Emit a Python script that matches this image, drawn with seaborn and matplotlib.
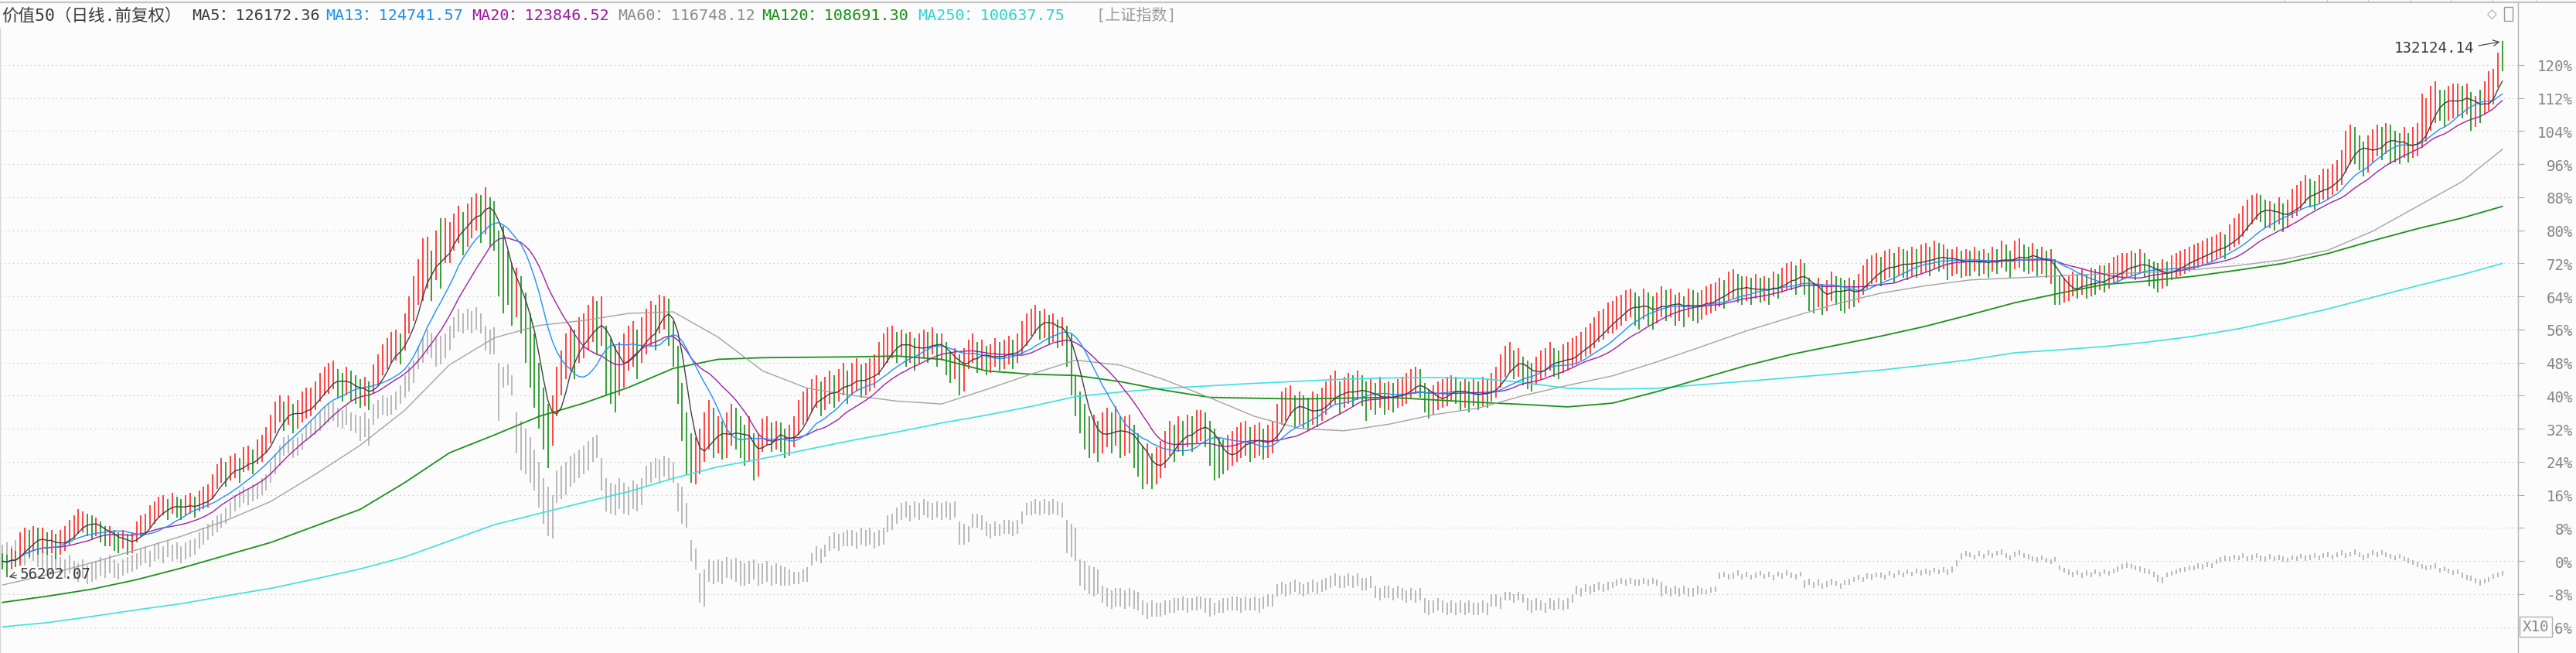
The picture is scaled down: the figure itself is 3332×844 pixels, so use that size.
import numpy as np
import pandas as pd
import matplotlib
matplotlib.use("Agg")
import matplotlib.pyplot as plt
from matplotlib.lines import Line2D
from matplotlib.patches import Rectangle
import seaborn as sns

# ---------------- data (percent change vs. base, as on the right axis) ----------------
close = [
 0.0, -0.5, 1.0, 0.5, 4.0, 5.5, 4.5, 6.0, 5.0, 5.5,
 4.0, 4.5, 3.5, 4.5, 5.5, 7.0, 8.0, 9.5, 10.0, 9.0,
 8.0, 8.5, 7.0, 6.0, 6.5, 5.0, 4.5, 5.5, 4.0, 4.5,
 7.0, 8.5, 9.0, 10.5, 12.0, 13.0, 13.5, 12.5, 14.0, 13.0,
 12.5, 13.5, 14.0, 13.0, 14.5, 15.0, 15.5, 18.0, 20.5, 22.0,
 21.0, 22.5, 23.0, 22.0, 24.5, 25.0, 24.0, 26.5, 27.0, 29.0,
 32.0, 35.0, 37.0, 35.0, 36.5, 34.5, 35.5, 37.0, 38.0, 38.5,
 40.0, 42.0, 43.5, 44.0, 45.0, 43.0, 42.0, 43.5, 42.0, 41.5,
 40.5, 41.0, 40.0, 44.0, 46.0, 48.5, 50.0, 51.5, 52.0, 51.0,
 56.0, 60.0, 64.0, 68.0, 71.0, 73.0, 70.0, 74.0, 73.0, 77.0,
 78.0, 81.0, 83.0, 80.0, 82.5, 85.0, 86.0, 84.5, 87.0, 85.0,
 80.0, 75.0, 70.0, 68.0, 64.0, 66.0, 62.0, 56.0, 50.0, 44.0,
 38.0, 32.0, 30.0, 36.0, 42.0, 46.0, 50.0, 52.0, 50.0, 54.0,
 55.0, 57.0, 59.0, 56.0, 58.0, 50.0, 48.0, 45.0, 47.0, 49.0,
 52.0, 53.0, 50.0, 54.0, 56.0, 58.0, 57.0, 61.0, 63.0, 60.0,
 52.0, 42.0, 34.0, 28.0, 24.0, 25.0, 26.0, 30.0, 34.0, 30.0,
 31.0, 29.0, 30.0, 33.0, 32.0, 30.0, 28.0, 29.0, 24.0, 25.0,
 31.0, 31.5, 30.0, 30.5, 30.0, 28.5, 29.0, 31.0, 35.0, 37.0,
 38.0, 40.0, 41.0, 39.0, 40.5, 42.0, 41.0, 42.5, 44.0, 42.0,
 44.0, 45.0, 43.5, 44.0, 45.0, 46.0, 49.0, 51.0, 52.0, 53.0,
 52.0, 53.5, 51.0, 52.0, 50.0, 51.5, 53.0, 52.0, 54.0, 51.0,
 52.0, 49.0, 47.0, 48.0, 46.5, 48.0, 50.0, 51.5, 49.0, 50.0,
 48.5, 49.0, 50.5, 49.5, 50.0, 51.0, 50.0, 51.5, 54.0, 56.0,
 58.0, 59.0, 57.0, 58.5, 56.0, 57.0, 55.0, 56.0, 52.0, 46.0,
 40.0, 36.0, 33.0, 30.0, 31.0, 29.0, 31.0, 32.5, 31.0, 33.0,
 30.0, 30.5, 31.0, 28.0, 26.0, 23.0, 24.0, 21.0, 23.0, 24.5,
 27.0, 30.0, 28.5, 31.0, 30.0, 32.0, 31.0, 33.0, 34.0, 32.0,
 29.0, 26.0, 25.0, 24.5, 26.0, 27.0, 28.0, 29.5, 30.0, 28.0,
 29.0, 29.5, 28.0, 29.0, 30.0, 34.0, 37.0, 38.0, 39.0, 36.0,
 37.0, 36.0, 35.5, 37.0, 36.5, 38.0, 39.5, 41.0, 42.0, 39.5,
 40.5, 41.5, 41.0, 42.5, 41.0, 39.5, 40.0, 39.0, 40.5, 39.0,
 40.0, 39.5, 40.5, 41.0, 41.5, 43.0, 44.0, 43.0, 39.0, 38.0,
 39.0, 40.0, 40.5, 41.0, 42.0, 41.5, 40.0, 40.5, 40.0, 41.0,
 40.0, 41.0, 40.5, 42.0, 43.0, 46.0, 48.0, 49.0, 47.5, 48.0,
 46.0, 45.0, 44.5, 46.0, 47.5, 48.0, 49.5, 48.0, 47.5, 49.0,
 49.5, 50.5, 51.0, 52.0, 53.0, 53.5, 55.0, 56.5, 57.0, 58.5,
 59.0, 60.0, 61.0, 62.0, 63.0, 61.0, 60.0, 62.5, 61.0, 60.0,
 61.5, 63.0, 62.0, 63.0, 61.0, 62.0, 60.5, 63.0, 62.0, 61.5,
 62.0, 63.0, 63.5, 64.0, 65.0, 64.5, 66.5, 67.0, 66.0, 65.5,
 66.0, 65.0, 66.5, 65.5, 66.0, 65.0, 67.0, 66.5, 68.0, 68.5,
 69.0, 68.0, 70.0, 68.5, 65.0, 64.0, 65.5, 63.5, 64.5, 67.0,
 66.0, 65.0, 64.5, 65.5, 65.0, 66.0, 68.0, 69.5, 70.5, 71.0,
 70.0, 71.5, 72.0, 71.0, 72.5, 72.0, 71.5, 72.5, 72.0, 73.0,
 73.5, 72.5, 74.0, 73.5, 74.0, 72.0, 72.5, 73.0, 72.0, 72.5,
 72.0, 73.0, 72.0, 72.5, 71.5, 73.0, 72.5, 74.0, 73.0, 71.5,
 74.0, 75.0, 73.5, 73.0, 74.0, 72.5, 73.0, 72.0, 72.0, 68.0,
 64.5, 65.0, 66.0, 67.0, 66.5, 67.5, 66.0, 68.0, 67.5, 68.5,
 68.0, 69.0, 70.0, 70.5, 71.0, 71.5, 72.0, 71.0, 72.5, 71.5,
 70.0, 69.5, 69.0, 70.0, 69.5, 71.0, 71.5, 72.0, 72.5, 73.0,
 73.5, 74.0, 74.5, 75.0, 75.5, 76.0, 76.5, 76.0, 78.5, 79.5,
 80.0, 82.0, 83.5, 85.0, 86.0, 85.5, 84.0, 84.0, 83.5, 85.0,
 83.0, 84.0, 86.5, 87.0, 88.5, 90.0, 89.0, 88.5, 90.0, 91.0,
 91.5, 92.5, 93.0, 95.0, 100.0, 102.0, 101.0, 99.0, 97.5, 99.0,
 100.5, 102.0, 101.0, 103.0, 102.0, 100.5, 100.0, 101.5, 99.5, 101.5,
 102.0, 104.0, 108.0, 112.0, 113.0, 111.0, 109.5, 111.0, 112.0, 113.0,
 111.5, 112.5, 109.0, 110.0, 109.5, 112.0, 112.5, 115.0, 121.5, 119.5,
]

high = [
 2.0, 1.5, 3.0, 2.5, 7.0, 8.0, 7.5, 8.5, 8.0, 8.0,
 7.0, 7.5, 6.5, 7.5, 8.5, 10.0, 11.0, 12.5, 12.0, 11.5,
 11.0, 10.5, 9.5, 8.5, 8.5, 7.5, 7.0, 7.5, 6.5, 7.0,
 9.5, 11.0, 11.5, 13.5, 14.5, 15.5, 16.0, 15.0, 16.5, 15.5,
 15.0, 16.0, 16.5, 15.5, 17.0, 18.0, 18.5, 21.0, 23.5, 25.0,
 24.0, 25.5, 26.0, 25.0, 27.5, 28.0, 27.0, 29.5, 30.5, 32.5,
 35.5, 38.5, 40.0, 38.5, 40.0, 38.0, 39.0, 41.0, 42.0, 42.0,
 43.5, 45.5, 47.0, 48.0, 48.5, 46.5, 45.5, 47.0, 46.0, 45.0,
 44.0, 44.5, 43.5, 47.5, 50.0, 52.5, 54.0, 55.5, 56.0, 55.0,
 60.0, 64.0, 69.0, 73.0, 78.0, 78.5, 75.0, 80.0, 83.0, 83.0,
 82.0, 84.0, 86.0, 84.5, 86.5, 88.0, 89.0, 88.5, 90.5, 88.0,
 87.0, 80.0, 81.0, 75.0, 72.0, 71.0, 69.0, 65.0, 60.0, 55.0,
 48.0, 42.0, 38.0, 40.0, 47.0, 51.0, 55.0, 57.0, 56.0, 59.0,
 60.0, 62.0, 64.0, 63.0, 64.0, 57.0, 54.0, 52.0, 53.0, 55.0,
 57.0, 58.0, 56.0, 59.0, 61.0, 63.0, 62.0, 64.5, 64.0, 63.5,
 58.0, 52.0, 43.0, 36.0, 31.0, 30.0, 32.0, 36.0, 39.0, 37.0,
 35.0, 34.0, 36.0, 38.0, 37.0, 35.0, 33.0, 35.0, 31.0, 31.0,
 34.5, 35.0, 33.5, 34.0, 33.5, 32.0, 33.0, 35.0, 39.0, 41.0,
 42.0, 44.0, 45.0, 43.5, 44.5, 46.0, 45.0, 46.5, 48.0, 46.0,
 48.0, 49.0, 47.5, 48.0, 49.0, 50.0, 53.0, 55.0, 56.5, 57.0,
 55.5, 56.0, 55.0, 55.5, 54.0, 55.0, 56.0, 55.5, 56.5, 55.0,
 55.0, 53.0, 50.5, 51.5, 50.0, 51.5, 53.5, 55.0, 53.0, 53.5,
 52.0, 52.5, 54.0, 53.0, 53.5, 54.5, 53.5, 55.0, 58.0, 60.0,
 61.0, 62.0, 60.5, 61.0, 59.5, 60.0, 58.5, 59.0, 57.0, 55.0,
 45.0, 41.0, 38.0, 35.0, 35.5, 34.0, 36.0, 37.0, 36.0, 37.5,
 35.0, 35.0, 35.5, 33.0, 31.0, 28.0, 28.5, 26.0, 27.5, 29.0,
 31.5, 34.0, 33.0, 35.0, 34.0, 35.5, 35.0, 36.5, 36.5, 36.0,
 34.0, 32.0, 30.0, 29.5, 30.5, 31.5, 32.5, 33.5, 34.0, 32.5,
 33.0, 33.5, 32.0, 33.0, 34.0, 38.0, 41.0, 42.0, 42.5, 40.0,
 41.0, 40.0, 39.5, 41.0, 40.5, 42.0, 43.5, 45.0, 46.0, 43.5,
 44.5, 45.5, 45.0, 46.0, 45.0, 43.5, 44.0, 43.0, 44.5, 43.0,
 43.5, 43.0, 44.0, 44.5, 45.5, 46.5, 47.0, 46.5, 43.0, 41.5,
 42.5, 43.5, 44.0, 44.5, 45.0, 44.5, 43.5, 44.0, 43.5, 44.0,
 43.5, 44.5, 44.0, 45.5, 47.0, 50.0, 52.0, 53.0, 51.0, 51.5,
 49.5, 48.5, 48.0, 49.5, 51.0, 51.5, 53.0, 51.5, 51.0, 52.5,
 53.0, 54.0, 54.5, 55.5, 56.5, 57.5, 59.0, 60.5, 61.0, 62.5,
 63.0, 64.0, 64.5, 65.5, 66.0, 65.0, 64.0, 66.0, 65.0, 64.0,
 65.0, 66.5, 65.5, 66.0, 64.5, 65.0, 64.0, 66.0, 65.5, 65.0,
 65.5, 66.5, 67.0, 67.5, 68.5, 68.0, 70.0, 70.5, 69.5, 69.0,
 69.0, 68.5, 69.5, 68.5, 69.0, 68.5, 70.0, 69.5, 71.0, 72.0,
 72.5, 71.5, 73.0, 72.0, 68.5, 67.5, 68.5, 67.0, 68.0, 70.0,
 69.0, 68.5, 68.0, 68.5, 68.0, 69.5, 71.5, 73.0, 74.0, 74.5,
 73.5, 75.0, 75.5, 74.5, 76.0, 75.5, 75.0, 76.0, 75.5, 76.5,
 77.0, 76.0, 77.5, 77.0, 76.5, 75.5, 75.5, 76.0, 75.0, 75.5,
 75.0, 76.0, 75.0, 75.5, 74.5, 76.0, 75.5, 77.5, 76.5, 75.0,
 77.5, 78.0, 76.5, 76.0, 77.0, 75.5, 76.0, 75.0, 75.5, 73.0,
 69.0, 68.5, 69.0, 70.0, 69.5, 70.5, 69.5, 71.0, 70.5, 71.5,
 71.5, 72.0, 73.5, 74.0, 74.5, 74.5, 75.0, 74.5, 75.5, 74.5,
 73.0, 72.5, 72.0, 73.0, 72.5, 74.0, 74.5, 75.0, 75.5, 76.0,
 76.5, 77.0, 77.5, 78.0, 78.5, 79.0, 79.5, 79.0, 81.5, 83.0,
 84.0, 86.0, 87.5, 88.5, 89.0, 88.5, 87.5, 87.0, 86.5, 88.0,
 86.5, 87.5, 90.0, 91.0, 92.0, 93.5, 92.5, 92.0, 93.5, 95.0,
 95.0, 96.0, 97.0, 99.5, 104.0, 105.5, 105.0, 103.0, 101.5, 103.0,
 104.5, 105.5, 105.0, 106.0, 105.5, 104.0, 103.5, 105.0, 103.5, 105.0,
 106.0, 113.0, 112.0, 115.0, 116.0, 114.0, 114.0, 115.0, 115.5, 115.5,
 115.0, 115.5, 113.5, 112.5, 114.0, 116.0, 118.5, 119.0, 123.0, 125.85,
]

low = [
 -2.0, -3.93, -2.0, -1.5, -1.0, 2.0, 1.0, 2.5, 1.5, 2.0,
 1.5, 2.0, 0.5, 1.5, 2.5, 4.0, 5.0, 6.5, 7.0, 6.0,
 5.0, 6.0, 4.5, 3.5, 3.5, 2.5, 2.0, 3.0, 1.5, 2.0,
 4.5, 6.0, 6.5, 8.0, 9.0, 10.5, 11.0, 10.0, 11.5, 10.5,
 10.0, 11.0, 11.5, 10.5, 12.0, 12.5, 13.0, 15.0, 17.5, 19.0,
 18.0, 19.5, 20.0, 19.0, 21.5, 22.0, 21.0, 23.5, 24.0, 26.0,
 28.5, 31.0, 33.5, 31.5, 33.0, 31.0, 32.0, 33.5, 34.5, 35.0,
 36.5, 38.5, 40.0, 40.5, 41.5, 39.5, 38.5, 40.0, 38.5, 38.0,
 37.0, 37.5, 36.5, 40.5, 42.5, 45.0, 46.5, 48.0, 48.5, 47.5,
 51.0, 55.0, 58.0, 62.0, 63.0, 66.0, 63.0, 68.0, 66.0, 72.0,
 72.0, 75.0, 77.0, 74.0, 76.0, 78.0, 80.0, 77.0, 79.0, 76.0,
 75.0, 64.0, 60.0, 62.0, 57.0, 59.0, 55.0, 48.0, 42.0, 37.0,
 32.0, 27.0, 22.5, 28.0, 35.0, 40.0, 44.0, 46.0, 44.0, 48.0,
 49.0, 51.0, 53.0, 50.0, 52.0, 40.0, 38.0, 36.0, 40.0, 42.0,
 46.0, 47.0, 44.0, 48.0, 50.0, 52.0, 51.0, 55.0, 56.0, 52.0,
 47.0, 38.0, 29.0, 21.0, 19.0, 18.5, 21.0, 24.0, 27.0, 25.0,
 26.0, 24.5, 25.0, 28.0, 27.0, 25.0, 23.0, 24.0, 19.5, 20.5,
 26.5, 28.0, 26.5, 27.0, 26.5, 25.0, 25.5, 27.5, 30.5, 33.0,
 34.0, 36.0, 37.0, 35.0, 36.5, 38.0, 37.0, 38.5, 40.0, 38.0,
 40.0, 41.0, 39.5, 40.0, 41.0, 42.0, 45.0, 47.0, 48.0, 49.0,
 48.0, 49.5, 47.0, 48.0, 46.0, 47.5, 49.0, 48.0, 50.0, 47.0,
 48.5, 45.0, 43.0, 44.0, 40.0, 41.0, 46.5, 48.0, 45.5, 46.5,
 45.0, 45.5, 47.0, 46.0, 46.5, 47.5, 46.5, 48.0, 50.0, 52.0,
 54.5, 55.0, 53.5, 54.0, 52.5, 53.0, 51.5, 52.0, 47.0, 40.0,
 35.0, 31.0, 27.0, 25.0, 26.0, 24.0, 26.0, 27.5, 26.0, 28.0,
 25.0, 25.5, 26.0, 22.5, 20.5, 17.5, 18.5, 17.5, 18.5, 20.0,
 22.5, 25.5, 24.0, 26.5, 25.5, 27.5, 26.5, 28.5, 29.0, 27.5,
 23.0, 19.5, 20.0, 21.0, 22.0, 23.0, 24.0, 25.0, 25.5, 24.0,
 25.0, 25.5, 24.5, 25.0, 26.0, 29.0, 33.0, 34.0, 35.0, 32.0,
 33.0, 32.0, 31.5, 33.0, 32.5, 34.0, 35.5, 37.0, 38.0, 35.5,
 37.0, 38.0, 37.5, 39.0, 37.5, 34.0, 36.5, 35.5, 37.0, 35.5,
 36.5, 36.0, 37.0, 37.5, 38.0, 39.5, 40.5, 39.5, 36.0, 34.5,
 35.5, 36.5, 37.0, 37.5, 38.5, 38.0, 36.5, 37.0, 36.0, 37.5,
 36.5, 37.5, 37.0, 38.5, 39.5, 42.0, 44.5, 45.5, 44.0, 44.5,
 42.5, 41.5, 41.0, 42.5, 44.0, 44.5, 46.0, 44.5, 44.0, 45.5,
 46.0, 47.0, 47.5, 48.5, 49.5, 50.0, 51.5, 53.0, 53.5, 55.0,
 55.0, 56.0, 57.0, 58.0, 59.0, 57.0, 56.0, 58.5, 57.0, 56.0,
 57.5, 59.0, 58.0, 59.0, 57.0, 58.0, 56.5, 59.0, 58.0, 57.5,
 58.5, 59.5, 60.0, 60.5, 61.5, 61.0, 63.0, 63.5, 62.5, 62.0,
 63.0, 62.0, 63.5, 62.5, 63.0, 62.0, 64.0, 63.5, 65.0, 65.5,
 65.5, 64.5, 66.5, 64.5, 60.5, 60.0, 61.5, 59.5, 60.5, 63.0,
 62.0, 60.5, 60.0, 61.0, 61.5, 62.5, 64.5, 66.0, 67.0, 67.5,
 66.5, 68.0, 68.5, 67.5, 69.0, 68.5, 68.0, 69.0, 68.5, 69.5,
 70.0, 69.0, 70.5, 70.0, 70.5, 68.0, 69.0, 69.5, 68.5, 69.0,
 69.0, 70.0, 69.0, 69.5, 68.5, 70.0, 69.5, 71.0, 70.0, 68.5,
 70.5, 71.0, 70.0, 69.5, 70.0, 69.0, 69.5, 68.5, 67.0, 62.0,
 62.0, 62.5, 63.0, 64.0, 63.5, 64.5, 63.5, 64.0, 64.5, 65.5,
 65.0, 66.0, 67.0, 67.5, 68.0, 68.5, 69.0, 68.0, 69.5, 68.5,
 66.5, 66.0, 65.0, 66.0, 66.5, 68.0, 68.5, 69.0, 69.5, 70.0,
 70.5, 71.0, 71.5, 72.0, 72.5, 73.0, 73.5, 73.0, 75.0, 76.0,
 76.5, 78.5, 80.0, 81.5, 82.5, 82.0, 80.5, 80.5, 80.0, 81.5,
 79.5, 80.5, 83.0, 83.5, 85.0, 86.5, 85.5, 85.0, 86.5, 87.5,
 87.5, 88.5, 89.5, 91.0, 94.0, 96.0, 96.0, 94.5, 93.0, 94.0,
 96.5, 98.0, 97.0, 98.5, 96.0, 96.5, 96.0, 97.5, 96.5, 97.5,
 98.0, 100.0, 101.5, 104.0, 106.0, 106.5, 105.0, 106.5, 107.0, 107.5,
 107.0, 108.0, 104.0, 105.0, 106.0, 108.0, 109.0, 110.5, 114.5, 118.5,
]

# overlaid comparison index (上证指数), same percent axis
idx_high = [
 4, 4.5, 3.5, 5, 4, 3.5, 4.5, 4, 3, 2.5,
 2, 1.5, 2.5, 1, 0.5, 1.5, 0, -0.5, 0.5, -1,
 -0.5, 0, 1, 0.5, 1.5, 0.5, -0.5, 0.5, 1, 1.5,
 2, 3, 3.5, 2.5, 4, 4.5, 3.5, 5, 4, 4.5,
 3.5, 4.5, 5, 5.5, 7, 8, 9, 10, 11, 11.5,
 13, 14.5, 16, 17, 18, 17.5, 18.5, 19, 20, 21,
 24, 26, 28, 30, 30.5, 29.5, 30, 31, 33, 34,
 35, 36, 37.5, 38, 38.5, 37, 36.5, 37.5, 36, 35.5,
 35, 36, 34.5, 38, 39, 40, 39.5, 40, 41, 42.5,
 45, 47, 48.5, 52, 54, 56, 55, 54, 54.5, 55,
 57, 59, 61, 60, 61, 60.5, 61.5, 60, 57, 56,
 56.5, 48, 47, 47.5, 45, 36, 34, 32, 30, 27,
 24, 20, 18, 16, 22, 23, 24, 25.5, 26, 27,
 28, 29, 30, 30.5, 25, 20, 19, 18.5, 20, 19,
 18, 19.5, 18.5, 20, 23, 24, 25, 24.5, 25.5, 25,
 24, 19, 18, 14, 5, 3, -3, -2, 0.5, 0,
 0.5, 0, 1, 0.5, 0.8, 0, -0.5, 0, 0.5, -0.5,
 -0.5, 0, -1, -0.5, -1, -1.5, -2, -2.5, -2.5, -2,
 -1.5, 2, 3.5, 3, 4, 6, 7, 6.5, 7, 7.5,
 7.5, 7, 8, 7.5, 8, 7, 7.5, 8, 11, 11.5,
 13, 14, 14.5, 13.5, 14.5, 14, 15, 14.5, 14, 14.5,
 14, 14.5, 14, 14.5, 9.5, 9, 8.5, 11.5, 11.5, 11,
 9.5, 9, 9.5, 9, 10, 10, 9.5, 10, 12, 14,
 14.5, 15, 14.5, 15, 14.5, 15, 14.5, 14, 10, 9,
 8, 0.5, 0, -1, -1.5, -2, -6, -6.5, -7, -6.5,
 -6.5, -7, -6.5, -7, -7.5, -9.5, -10, -9.5, -10, -10,
 -9.5, -9.5, -9, -9, -8.5, -9, -9, -8.5, -8.5, -9,
 -9, -10, -9.5, -9, -9, -8.5, -8.5, -9, -8.5, -9,
 -8.5, -9, -8.5, -8, -8, -5.5, -5, -5.5, -5, -4.5,
 -5, -5.5, -5, -4.5, -5, -4.5, -4, -3.5, -3, -3.5,
 -3.5, -3, -3.5, -3, -4, -4, -3.5, -6, -6.5, -6,
 -6, -6.5, -6, -6.5, -7, -6.5, -7, -6.5, -9, -9.5,
 -9.5, -9, -9.5, -10, -9.5, -10, -9.5, -10, -9.5, -10,
 -10, -9.5, -10, -8, -8, -8.5, -7.5, -7.5, -8, -7.5,
 -8, -9, -9.5, -9, -9.5, -10, -9, -9.5, -9, -9.5,
 -9, -8, -6, -6.5, -5.5, -6, -5.5, -5, -5.5, -5,
 -5, -4.5, -4, -4.5, -4, -4.5, -4.5, -4, -4.5, -4,
 -4.5, -5, -6, -6.5, -6, -6.5, -6, -6.5, -6.5, -6,
 -6.6, -6.9, -6.3, -6.1, -2.8, -2.5, -3.2, -2.8, -2.3, -3.1,
 -2.6, -3.3, -2.7, -2.4, -3.1, -2.6, -3.4, -2.5, -3.0, -2.3,
 -2.8, -3.2, -2.5, -4.6, -4.3, -5.1, -4.5, -5.3, -4.9, -4.3,
 -4.8, -5.3, -4.6, -4.3, -3.8, -3.3, -3.9, -3.0, -3.2, -2.7,
 -2.8, -3.3, -2.4, -2.9, -2.2, -2.7, -2.0, -2.5, -1.8, -2.3,
 -1.9, -2.3, -1.6, -2.0, -1.5, -2.1, -1.3, 0.3, 1.9, 2.4,
 2.1, 1.6, 2.4, 1.8, 2.6, 2.0, 2.5, 2.9, 1.9, 1.4,
 2.2, 2.7, 2.0, 1.7, 1.2, 0.9, 1.4, 0.8, 0.4, 1.0,
 -1.0, -1.6, -2.1, -2.5, -2.2, -2.8, -2.3, -2.7, -2.0, -2.5,
 -2.0, -2.4, -1.8, -1.3, -0.8, -0.4, -0.7, -1.0, -1.3, -1.7,
 -2.0, -2.6, -3.4, -3.8, -2.7, -2.4, -2.0, -1.6, -1.4, -1.0,
 -1.1, -0.6, -0.8, -0.2, -0.5, 0.4, 0.9, 1.3, 1.1, 1.6,
 1.4, 1.9, 1.2, 1.5, 2.0, 1.3, 1.1, 1.7, 1.2, 1.5,
 1.1, 0.8, 1.4, 1.2, 1.8, 1.3, 1.5, 2.0, 1.4, 1.9,
 2.2, 1.6, 2.1, 2.6, 2.0, 2.3, 2.8, 2.1, 1.5, 1.9,
 2.6, 2.2, 2.7, 2.1, 1.8, 1.4, 1.8, 1.2, 0.7, 0.3,
 -0.2, -0.7, -1.1, -0.9, -0.6, -1.6, -1.2, -1.8, -2.2, -2.0,
 -2.8, -3.4, -3.6, -4.0, -4.4, -4.2, -3.8, -3.1, -2.7, -2.4,
]

idx_low = [
 -1, 0, -0.5, 1, 0, -1, 0.5, 0, -1.5, -2,
 -2.5, -3, -2, -3.5, -4, -3, -4.5, -5, -4, -5.5,
 -5, -4.5, -3.5, -4, -3, -4, -4.5, -3.5, -3, -2.5,
 -2, -1, -0.5, -1.5, 0, 0.5, -0.5, 1, 0, 0.5,
 -0.5, 0.5, 1, 1.5, 3, 4, 5, 6, 7, 8,
 9, 10.5, 12, 13, 14, 13.5, 14.5, 15, 16, 17,
 19, 21, 23, 25.5, 26, 25, 25.5, 27, 29, 30,
 30.5, 31.5, 33, 33.5, 34, 32.5, 32, 33, 31.5, 31,
 29, 30, 28, 33, 34.5, 35.5, 35, 35.5, 36.5, 38,
 39.5, 41, 43, 46.5, 48, 50, 49, 47, 47.5, 49,
 51, 54, 55.5, 55, 56, 55, 56, 55, 51, 50,
 50, 34, 42, 42.5, 40, 26, 22, 21, 19, 17,
 13, 9, 6, 5.5, 14, 15, 16, 18, 19, 20,
 21, 22, 24, 25, 17, 12, 11.5, 11, 12.5, 11.5,
 11, 12.5, 12, 13.5, 18, 19, 20, 19, 20.5, 19.5,
 19, 12, 9, 8, 0, -2, -10, -11, -5, -5.5,
 -5, -5.5, -4, -4.5, -5, -6, -6, -5.5, -4.5, -6,
 -5.5, -5, -6, -5.5, -6, -6, -6, -5.5, -5.5, -5,
 -5, -1, 0, -0.5, 1, 2.5, 3, 2.5, 3.5, 3.5,
 3.5, 3, 4, 3.5, 4, 3, 3.5, 4, 7, 7.5,
 9, 10, 10.5, 9.5, 10.5, 10, 11, 10.5, 10, 10.5,
 10, 10.5, 10, 10.5, 4, 4, 4.5, 8, 8, 7.5,
 6, 5.5, 6, 6, 6.5, 6.5, 6, 6.5, 9, 11,
 11, 11.5, 11, 11.5, 11, 11.5, 11, 10.5, 2, 1,
 0, -6, -7, -8, -8.5, -8, -10, -11, -11.5, -11,
 -11, -11.5, -11, -11.5, -12, -13, -14, -13.5, -13.5, -13.5,
 -13, -12.5, -12.5, -12, -12, -12.5, -12, -12, -11.5, -12.5,
 -13.5, -13, -12.5, -12.5, -12, -12, -12, -12.5, -12, -12,
 -12, -12.5, -11.5, -11, -11, -8.5, -8, -8.5, -8, -7.5,
 -8, -8.5, -8, -7.5, -8, -7.5, -7, -6.5, -6, -6.5,
 -6.5, -6, -6.5, -6, -7, -7, -6.5, -9, -9.5, -9,
 -9, -9.5, -9, -9.5, -10, -9.5, -10, -9.5, -12.5, -13,
 -12.5, -12, -12.5, -13, -12.5, -13, -12.5, -13, -12.5, -13,
 -13, -12.5, -13, -11, -11, -11.5, -9.5, -9.5, -10, -9.5,
 -10, -12, -12.5, -12, -12, -12.5, -11.5, -12, -11.5, -12,
 -11.5, -10, -8, -8.5, -7.5, -8, -7.5, -7, -7.5, -7,
 -6.5, -6, -5.5, -6, -5.5, -6, -6, -5.5, -6, -5.5,
 -6, -8.5, -8, -8.5, -8, -8.5, -8, -8.5, -8.5, -8,
 -8.0, -8.1, -7.6, -7.4, -4.2, -3.8, -4.4, -4.2, -3.6, -4.5,
 -3.8, -4.5, -4.0, -3.6, -4.3, -3.9, -4.6, -3.7, -4.2, -3.6,
 -4.0, -4.4, -3.7, -6.6, -5.7, -6.5, -5.9, -6.7, -6.3, -5.7,
 -6.0, -6.7, -5.8, -5.7, -5.0, -4.7, -5.1, -4.2, -4.6, -3.9,
 -4.0, -4.5, -3.6, -4.1, -3.4, -3.9, -3.2, -3.7, -3.0, -3.5,
 -3.1, -3.5, -2.8, -3.2, -2.7, -3.3, -2.7, -1.3, 0.5, 1.2,
 0.9, 0.4, 1.2, 0.6, 1.4, 0.8, 1.3, 1.5, 0.7, 0.2,
 1.0, 1.3, 0.8, 0.5, 0.0, -0.3, 0.2, -0.4, -0.8, -0.2,
 -2.2, -2.8, -3.3, -3.9, -3.4, -4.0, -3.5, -3.9, -3.2, -3.7,
 -3.2, -3.6, -3.0, -2.5, -2.0, -1.6, -1.9, -2.2, -2.5, -2.9,
 -3.2, -3.8, -5.0, -5.4, -3.9, -3.6, -3.2, -2.8, -2.6, -2.2,
 -2.3, -1.8, -2.0, -1.4, -1.7, -0.8, -0.3, 0.1, -0.1, 0.4,
 0.2, 0.7, 0.0, 0.3, 0.8, 0.1, -0.1, 0.5, 0.0, 0.3,
 -0.1, -0.4, 0.2, 0.0, 0.6, 0.1, 0.3, 0.8, 0.2, 0.7,
 1.0, 0.4, 0.9, 1.4, 0.8, 1.1, 1.6, 0.9, 0.3, 0.7,
 1.4, 1.0, 1.5, 0.9, 0.6, 0.2, 0.6, 0.0, -0.5, -0.9,
 -1.4, -1.9, -2.3, -2.1, -1.8, -2.8, -2.4, -3.0, -3.4, -3.2,
 -4.0, -4.6, -4.8, -5.4, -6.0, -5.4, -5.0, -4.3, -3.9, -3.6,
]

# long moving averages (bar index -> percent)
ma_long_idx = list(range(0, 560, 10)) + [559]
ma60 = [-5.8, -3.3, -0.4, 2.7, 6.0, 9.8, 14.4, 21.0, 28.0, 36.5, 47.5, 54.0, 57.0, 58.2,
        59.9, 60.3, 54.2, 46.0, 41.8, 40.1, 38.7, 38.0, 41.5, 45.2, 48.6, 47.4, 43.8,
        39.5, 35.0, 32.1, 31.5, 33.1, 35.4, 37.0, 40.0, 42.5, 44.8, 48.2, 51.9, 55.7,
        59.0, 62.2, 64.8, 66.6, 68.0, 68.5, 69.0, 69.5, 69.8, 70.5, 71.5, 72.9, 75.2,
        79.8, 85.8, 91.8, 99.6]
ma120 = [-10.0, -8.5, -6.8, -4.5, -1.7, 1.4, 4.5, 8.5, 12.5, 19.0, 26.2, 30.5, 35.0, 38.2,
         42.0, 46.6, 48.8, 49.2, 49.3, 49.4, 49.6, 48.8, 46.0, 45.2, 44.9, 43.4, 41.3,
         39.6, 39.4, 39.2, 39.4, 39.6, 39.0, 38.4, 37.9, 37.3, 38.2, 41.0, 44.2, 47.3,
         50.0, 52.2, 54.4, 56.8, 59.6, 62.5, 64.8, 66.9, 67.8, 68.9, 70.4, 72.0, 74.4,
         77.5, 80.4, 83.0, 85.8]
ma250 = [-15.9, -14.9, -13.4, -11.8, -10.3, -8.4, -6.6, -4.3, -1.9, 1.0, 4.9, 8.8, 11.5,
         14.2, 16.8, 20.0, 22.8, 24.8, 27.0, 29.2, 31.2, 33.4, 35.3, 37.4, 39.8, 40.9,
         41.8, 42.4, 43.0, 43.5, 44.0, 44.3, 44.4, 44.2, 43.2, 41.8, 41.6, 41.8, 42.7,
         43.5, 44.4, 45.3, 46.2, 47.4, 48.7, 50.4, 51.1, 51.9, 53.0, 54.4, 56.2, 58.5,
         61.0, 63.8, 66.6, 69.3, 72.0]

y_ticks = list(range(-16, 121, 8))
header_parts = [
    ("价值50（日线.前复权）", "#3a3a3a"),
    ("MA5：126172.36", "#3a3a3a"),
    ("MA13：124741.57", "#1e8fe6"),
    ("MA20：123846.52", "#9b1b9b"),
    ("MA60：116748.12", "#8c8c8c"),
    ("MA120：108691.30", "#168f16"),
    ("MA250：100637.75", "#2fd3d3"),
    ("[上证指数]", "#9a9a9a"),
]
max_label = "132124.14"
min_label = "56202.07"

# ---------------- sanity ----------------
n = len(close)
for arr in (high, low, idx_high, idx_low):
    assert len(arr) == n, (len(arr), n)
assert len(ma60) == len(ma120) == len(ma250) == len(ma_long_idx)

# ---------------- figure ----------------
W, H = 3332, 845
sns.set_theme(style="white")
plt.rcParams["font.family"] = ["DejaVu Sans Mono", "Noto Sans CJK SC"]
plt.rcParams["axes.unicode_minus"] = False

fig = plt.figure(figsize=(W / 100, H / 100), dpi=100, facecolor="#fcfcfc")
ax_top_px = 38
right_px = 3257
ax = fig.add_axes([0, 0, right_px / W, (H - ax_top_px) / H])
ax.set_facecolor("#fcfcfc")

ppp = 5.3434          # pixels per percent
y0_px = 726.2         # pixel row of 0 %
ytop = (y0_px - ax_top_px) / ppp
ybot = (y0_px - H) / ppp
bar_px = 5.785
ax.set_xlim(-3 / bar_px, (right_px - 3) / bar_px)
ax.set_ylim(ybot, ytop)

i = np.arange(n)
c = np.array(close)
prev = np.r_[c[0] + 1.0, c[:-1]]
up = c >= prev

# comparison index bars (gray)
ax.vlines(i, idx_low, idx_high, colors="#aaaaaa", linewidth=1.15, zorder=2)
# price bars
hi = np.array(high); lo = np.array(low)
ax.vlines(i[up], lo[up], hi[up], colors="#ff3b3b", linewidth=1.35, zorder=3)
ax.vlines(i[~up], lo[~up], hi[~up], colors="#2f9a2f", linewidth=1.35, zorder=3)

# moving averages
s = pd.Series(c)
df = pd.DataFrame({
    "i": i,
    "ma5": s.rolling(5, min_periods=1).mean(),
    "ma13": s.rolling(13, min_periods=1).mean(),
    "ma20": s.rolling(20, min_periods=1).mean(),
})
dl = pd.DataFrame({"i": ma_long_idx, "ma60": ma60, "ma120": ma120, "ma250": ma250})

sns.lineplot(data=dl, x="i", y="ma250", ax=ax, color="#3fe0e0", linewidth=1.2,
             estimator=None, sort=False, zorder=4)
sns.lineplot(data=dl, x="i", y="ma120", ax=ax, color="#1b921b", linewidth=1.3,
             estimator=None, sort=False, zorder=4)
sns.lineplot(data=dl, x="i", y="ma60", ax=ax, color="#a3a3a3", linewidth=1.0,
             estimator=None, sort=False, zorder=4)
sns.lineplot(data=df, x="i", y="ma20", ax=ax, color="#a020a0", linewidth=1.0,
             estimator=None, sort=False, zorder=5)
sns.lineplot(data=df, x="i", y="ma13", ax=ax, color="#1e90ff", linewidth=1.0,
             estimator=None, sort=False, zorder=5)
sns.lineplot(data=df, x="i", y="ma5", ax=ax, color="#404040", linewidth=1.0,
             estimator=None, sort=False, zorder=6)

ax.set_xlabel(""); ax.set_ylabel("")
ax.set_xticks([])

# y axis on the right
ax.yaxis.tick_right()
ax.set_yticks(y_ticks)
ax.set_yticklabels([f"{v}%" for v in y_ticks])
tick_len_pt = 8 / 1.389
ax.tick_params(axis="y", which="major", right=True, left=False, length=tick_len_pt,
               width=0.8, color="#a8a8a8", labelsize=13.8, labelcolor="#858585",
               pad=71 / 1.389 - tick_len_pt)
for lab in ax.get_yticklabels():
    lab.set_horizontalalignment("right")
ax.yaxis.grid(True, linestyle=(0, (1, 4)), color="#b8b8b8", linewidth=0.8)
ax.set_axisbelow(True)

for side in ("top", "bottom"):
    ax.spines[side].set_visible(False)
ax.spines["right"].set_color("#b4b4b4")
ax.spines["right"].set_linewidth(1.0)
ax.spines["left"].set_color("#d6d6d6")
ax.spines["left"].set_linewidth(1.0)

# max / min annotations
ax.annotate(max_label, xy=(n - 1 - 0.3, max(high) - 0.2),
            xytext=((3200 - 3) / bar_px, (y0_px - 63) / ppp),
            ha="right", va="center", fontsize=13.8, color="#3a3a3a",
            arrowprops=dict(arrowstyle="->", color="#4a4a4a", lw=0.9,
                            relpos=(1.0, 0.6), shrinkA=2, shrinkB=1), zorder=8)
imin = int(np.argmin(lo))
ax.annotate(min_label, xy=(imin + 0.2, min(low)),
            xytext=((26 - 3) / bar_px, (y0_px - 743) / ppp),
            ha="left", va="center", fontsize=13.8, color="#3a3a3a",
            arrowprops=dict(arrowstyle="->", color="#4a4a4a", lw=0.9,
                            relpos=(0.0, 0.5), shrinkA=1, shrinkB=1), zorder=8)

# header line
xs = [2, 248, 421, 610, 799, 985, 1187, 1418]
sizes = [15.5, 14.5, 14.5, 14.5, 14.5, 14.5, 14.5, 14.5]
for (txt, col), xp, fs in zip(header_parts, xs, sizes):
    fig.text(xp / W, 1 - 20 / H, txt, color=col, fontsize=fs, ha="left", va="center")

# frame decorations
fig.add_artist(Line2D([0, 1], [1 - 4 / H, 1 - 4 / H], transform=fig.transFigure,
                      color="#c4c4c4", linewidth=1.6))
fig.add_artist(Line2D([right_px / W, right_px / W], [1 - 4 / H, 1 - ax_top_px / H],
                      transform=fig.transFigure, color="#b4b4b4", linewidth=1.0))
for xp in (2955, 3010, 3063, 3118, 3170, 3224, 3280):
    fig.add_artist(Line2D([xp / W, xp / W], [1, 1 - 4 / H], transform=fig.transFigure,
                          color="#c4c4c4", linewidth=0.8))
fig.text(3223 / W, 1 - 19 / H, "◇", color="#9a9a9a", fontsize=12, ha="center", va="center",
         family="DejaVu Sans")
fig.add_artist(Rectangle((3239 / W, 1 - 28 / H), 11 / W, 18 / H, transform=fig.transFigure,
                         facecolor="none", edgecolor="#9a9a9a", linewidth=1.0))

# scale box at the bottom of the axis (covers the start of the lowest label, as in the original)
fig.text(3280 / W, 1 - 811 / H, "X10", color="#8a8a8a", fontsize=13.8, ha="center",
         va="center", zorder=10,
         bbox=dict(boxstyle="square,pad=0.18", facecolor="#fcfcfc", edgecolor="#b0b0b0",
                   linewidth=1.0))

fig.savefig("out.png", dpi=100, facecolor=fig.get_facecolor())
